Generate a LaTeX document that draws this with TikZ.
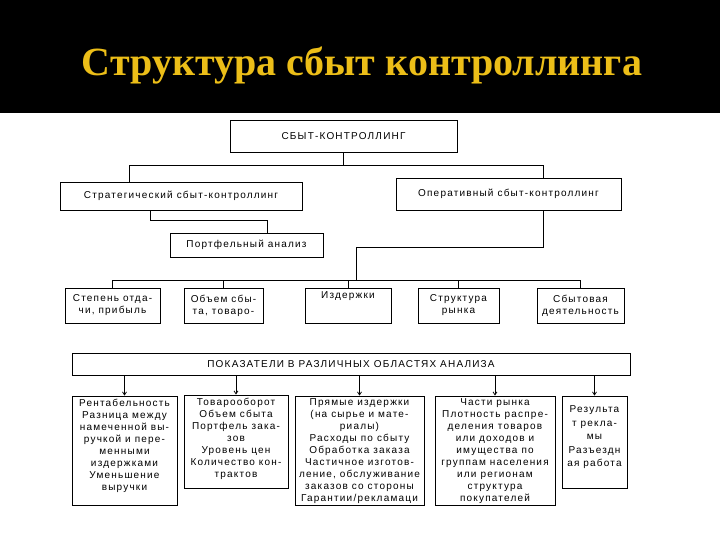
\documentclass[tikz,border=0pt]{standalone}
\usepackage{fontspec}
\setmainfont{Liberation Sans}
\newfontfamily\boxfont{Liberation Sans}[LetterSpace=12]
\newfontfamily\titlefont{Liberation Serif}
\usetikzlibrary{arrows.meta, positioning}
\definecolor{titlegold}{RGB}{236,190,24}

\begin{document}
\begin{tikzpicture}[x=1pt, y=-1pt,
  cbox/.style={draw, line width=0.8pt, fill=white, inner sep=0pt, font=\boxfont\fontsize{10}{12}\selectfont, align=center},
  tx/.style={anchor=north, inner sep=0pt, yshift=-3pt, font=\boxfont\fontsize{10}{12}\selectfont, align=center},
  link/.style={line width=0.8pt},
  arr/.style={line width=0.8pt, -{Straight Barb[length=3pt, width=4pt]}}
]
  \useasboundingbox (0,0) rectangle (720,540);
  \fill[white] (0,0) rectangle (720,540);
  \fill[black] (0,0) rectangle (720,113);
  \node[text=titlegold, font=\titlefont\bfseries\fontsize{40}{40}\selectfont] (title) at (362,66) {Структура сбыт контроллинга};

  % upper levels
  \node[cbox, minimum width=227pt, minimum height=32pt] (top) at (343.5,136) {СБЫТ-КОНТРОЛЛИНГ};
  \node[cbox, minimum width=242pt, minimum height=28pt] (strat) at (181,196) {Стратегический сбыт-контроллинг};
  \node[cbox, minimum width=225pt, minimum height=32pt] (oper) at (508.5,194) {Оперативный сбыт-контроллинг};
  \node[cbox, minimum width=153pt, minimum height=24pt] (port) at (246.5,245) {Портфельный анализ};

  % areas of analysis
  \node[cbox, minimum width=95pt, minimum height=35pt] (b1) at (112.5,305.5) {Степень отда-\\чи, прибыль};
  \node[cbox, minimum width=79pt, minimum height=35pt] (b2) at (223.5,305.5) {Объем сбы-\\та, товаро-};
  \node[cbox, minimum width=86pt, minimum height=35pt, label={[tx, yshift=-1pt]north:Издержки}] (b3) at (348,305.5) {};
  \node[cbox, minimum width=81pt, minimum height=35pt] (b4) at (458.5,305.5) {Структура\\рынка};
  \node[cbox, minimum width=87pt, minimum height=35pt] (b5) at (580.5,305.5) {Сбытовая\\деятельность};

  % indicators
  \node[cbox, minimum width=558pt, minimum height=22pt] (ind) at (351,364) {ПОКАЗАТЕЛИ В РАЗЛИЧНЫХ ОБЛАСТЯХ АНАЛИЗА};
  \node[cbox, minimum width=105pt, minimum height=109pt, label={[tx]north:{Рентабельность\\Разница между\\намеченной вы-\\ручкой и пере-\\менными\\издержками\\Уменьшение\\выручки}}] (ba) at (124.5,450.5) {};
  \node[cbox, minimum width=104pt, minimum height=93pt, label={[tx]north:{Товарооборот\\Объем сбыта\\Портфель зака-\\зов\\Уровень цен\\Количество кон-\\трактов}}] (bb) at (236,441.5) {};
  \node[cbox, minimum width=129pt, minimum height=109pt, label={[tx]north:{Прямые издержки\\(на сырье и мате-\\риалы)\\Расходы по сбыту\\Обработка заказа\\Частичное изготов-\\ление, обслуживание\\заказов со стороны\\Гарантии/рекламаци}}] (bc) at (359.5,450.5) {};
  \node[cbox, minimum width=120pt, minimum height=109pt, label={[tx]north:{Части рынка\\Плотность распре-\\деления товаров\\или доходов и\\имущества по\\группам населения\\или регионам\\структура\\покупателей}}] (bd) at (495,450.5) {};
  \node[cbox, minimum width=65pt, minimum height=92pt, label={[tx, yshift=-7pt, font=\boxfont\fontsize{10}{13.5}\selectfont]north:{Результа\\т рекла-\\мы\\Разъездн\\ая работа}}] (be) at (594.5,442) {};

  % connectors
  \coordinate (jl) at (129,165);
  \coordinate (jr) at (543,165);
  \coordinate (jb) at (543,247);
  \coordinate (jc) at (356,247);
  \coordinate (bus) at (356,280);
  \coordinate (sp) at (150,220);
  \coordinate (sq) at (267,220);
  \draw[link] (top.south) -- (top.south |- jl);
  \draw[link] (jl |- strat.north) -- (jl) -- (jr) -- (jr |- oper.north);
  \draw[link] (jr |- oper.south) -- (jb) -- (jc) -- (bus);
  \draw[link] (sp |- strat.south) -- (sp) -- (sq) -- (sq |- port.north);
  \draw[link] (b1.north |- bus) -- (b5.north |- bus);
  \foreach \b in {b1,b2,b3,b4,b5}
    \draw[link] (\b.north |- bus) -- (\b.north);
  \foreach \b in {ba,bb,bc,bd,be}
    \draw[arr] (\b.north |- ind.south) -- (\b.north);
\end{tikzpicture}
\end{document}
